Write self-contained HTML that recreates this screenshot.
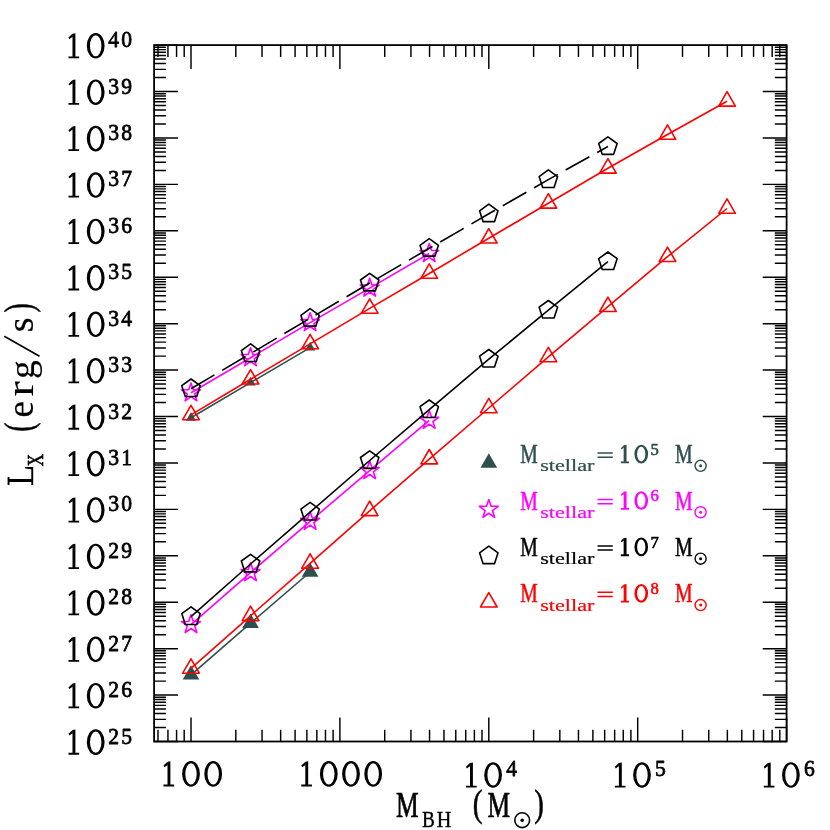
<!DOCTYPE html>
<html><head><meta charset="utf-8"><style>html,body{margin:0;padding:0;background:#fff;width:830px;height:830px;overflow:hidden}</style></head><body><svg width="830" height="830" viewBox="0 0 830 830" style="position:absolute;left:0;top:0">
<rect width="830" height="830" fill="#fff"/>
<path d="M157.97 741.50V729.70M157.97 45.10V56.90M167.94 741.50V729.70M167.94 45.10V56.90M176.57 741.50V729.70M176.57 45.10V56.90M184.19 741.50V729.70M184.19 45.10V56.90M191.00 741.50V717.60M191.00 45.10V69.00M235.82 741.50V729.70M235.82 45.10V56.90M262.04 741.50V729.70M262.04 45.10V56.90M280.65 741.50V729.70M280.65 45.10V56.90M295.08 741.50V729.70M295.08 45.10V56.90M306.87 741.50V729.70M306.87 45.10V56.90M316.84 741.50V729.70M316.84 45.10V56.90M325.47 741.50V729.70M325.47 45.10V56.90M333.09 741.50V729.70M333.09 45.10V56.90M339.90 741.50V717.60M339.90 45.10V69.00M384.72 741.50V729.70M384.72 45.10V56.90M410.94 741.50V729.70M410.94 45.10V56.90M429.55 741.50V729.70M429.55 45.10V56.90M443.98 741.50V729.70M443.98 45.10V56.90M455.77 741.50V729.70M455.77 45.10V56.90M465.74 741.50V729.70M465.74 45.10V56.90M474.37 741.50V729.70M474.37 45.10V56.90M481.99 741.50V729.70M481.99 45.10V56.90M488.80 741.50V717.60M488.80 45.10V69.00M533.62 741.50V729.70M533.62 45.10V56.90M559.84 741.50V729.70M559.84 45.10V56.90M578.45 741.50V729.70M578.45 45.10V56.90M592.88 741.50V729.70M592.88 45.10V56.90M604.67 741.50V729.70M604.67 45.10V56.90M614.64 741.50V729.70M614.64 45.10V56.90M623.27 741.50V729.70M623.27 45.10V56.90M630.89 741.50V729.70M630.89 45.10V56.90M637.70 741.50V717.60M637.70 45.10V69.00M682.52 741.50V729.70M682.52 45.10V56.90M708.74 741.50V729.70M708.74 45.10V56.90M727.35 741.50V729.70M727.35 45.10V56.90M741.78 741.50V729.70M741.78 45.10V56.90M753.57 741.50V729.70M753.57 45.10V56.90M763.54 741.50V729.70M763.54 45.10V56.90M772.17 741.50V729.70M772.17 45.10V56.90M779.79 741.50V729.70M779.79 45.10V56.90M786.60 741.50V717.60M786.60 45.10V69.00M154.10 741.50H178.00M786.60 741.50H762.70M154.10 727.52H165.90M786.60 727.52H774.80M154.10 719.35H165.90M786.60 719.35H774.80M154.10 713.55H165.90M786.60 713.55H774.80M154.10 709.05H165.90M786.60 709.05H774.80M154.10 705.37H165.90M786.60 705.37H774.80M154.10 702.26H165.90M786.60 702.26H774.80M154.10 699.57H165.90M786.60 699.57H774.80M154.10 697.20H165.90M786.60 697.20H774.80M154.10 695.07H178.00M786.60 695.07H762.70M154.10 681.10H165.90M786.60 681.10H774.80M154.10 672.92H165.90M786.60 672.92H774.80M154.10 667.12H165.90M786.60 667.12H774.80M154.10 662.62H165.90M786.60 662.62H774.80M154.10 658.95H165.90M786.60 658.95H774.80M154.10 655.84H165.90M786.60 655.84H774.80M154.10 653.15H165.90M786.60 653.15H774.80M154.10 650.77H165.90M786.60 650.77H774.80M154.10 648.65H178.00M786.60 648.65H762.70M154.10 634.67H165.90M786.60 634.67H774.80M154.10 626.50H165.90M786.60 626.50H774.80M154.10 620.70H165.90M786.60 620.70H774.80M154.10 616.20H165.90M786.60 616.20H774.80M154.10 612.52H165.90M786.60 612.52H774.80M154.10 609.41H165.90M786.60 609.41H774.80M154.10 606.72H165.90M786.60 606.72H774.80M154.10 604.34H165.90M786.60 604.34H774.80M154.10 602.22H178.00M786.60 602.22H762.70M154.10 588.24H165.90M786.60 588.24H774.80M154.10 580.07H165.90M786.60 580.07H774.80M154.10 574.27H165.90M786.60 574.27H774.80M154.10 569.77H165.90M786.60 569.77H774.80M154.10 566.09H165.90M786.60 566.09H774.80M154.10 562.98H165.90M786.60 562.98H774.80M154.10 560.29H165.90M786.60 560.29H774.80M154.10 557.92H165.90M786.60 557.92H774.80M154.10 555.79H178.00M786.60 555.79H762.70M154.10 541.82H165.90M786.60 541.82H774.80M154.10 533.64H165.90M786.60 533.64H774.80M154.10 527.84H165.90M786.60 527.84H774.80M154.10 523.34H165.90M786.60 523.34H774.80M154.10 519.67H165.90M786.60 519.67H774.80M154.10 516.56H165.90M786.60 516.56H774.80M154.10 513.87H165.90M786.60 513.87H774.80M154.10 511.49H165.90M786.60 511.49H774.80M154.10 509.37H178.00M786.60 509.37H762.70M154.10 495.39H165.90M786.60 495.39H774.80M154.10 487.22H165.90M786.60 487.22H774.80M154.10 481.42H165.90M786.60 481.42H774.80M154.10 476.92H165.90M786.60 476.92H774.80M154.10 473.24H165.90M786.60 473.24H774.80M154.10 470.13H165.90M786.60 470.13H774.80M154.10 467.44H165.90M786.60 467.44H774.80M154.10 465.06H165.90M786.60 465.06H774.80M154.10 462.94H178.00M786.60 462.94H762.70M154.10 448.96H165.90M786.60 448.96H774.80M154.10 440.79H165.90M786.60 440.79H774.80M154.10 434.99H165.90M786.60 434.99H774.80M154.10 430.49H165.90M786.60 430.49H774.80M154.10 426.81H165.90M786.60 426.81H774.80M154.10 423.70H165.90M786.60 423.70H774.80M154.10 421.01H165.90M786.60 421.01H774.80M154.10 418.64H165.90M786.60 418.64H774.80M154.10 416.51H178.00M786.60 416.51H762.70M154.10 402.54H165.90M786.60 402.54H774.80M154.10 394.36H165.90M786.60 394.36H774.80M154.10 388.56H165.90M786.60 388.56H774.80M154.10 384.06H165.90M786.60 384.06H774.80M154.10 380.39H165.90M786.60 380.39H774.80M154.10 377.28H165.90M786.60 377.28H774.80M154.10 374.59H165.90M786.60 374.59H774.80M154.10 372.21H165.90M786.60 372.21H774.80M154.10 370.09H178.00M786.60 370.09H762.70M154.10 356.11H165.90M786.60 356.11H774.80M154.10 347.94H165.90M786.60 347.94H774.80M154.10 342.14H165.90M786.60 342.14H774.80M154.10 337.64H165.90M786.60 337.64H774.80M154.10 333.96H165.90M786.60 333.96H774.80M154.10 330.85H165.90M786.60 330.85H774.80M154.10 328.16H165.90M786.60 328.16H774.80M154.10 325.78H165.90M786.60 325.78H774.80M154.10 323.66H178.00M786.60 323.66H762.70M154.10 309.68H165.90M786.60 309.68H774.80M154.10 301.51H165.90M786.60 301.51H774.80M154.10 295.71H165.90M786.60 295.71H774.80M154.10 291.21H165.90M786.60 291.21H774.80M154.10 287.53H165.90M786.60 287.53H774.80M154.10 284.42H165.90M786.60 284.42H774.80M154.10 281.73H165.90M786.60 281.73H774.80M154.10 279.36H165.90M786.60 279.36H774.80M154.10 277.23H178.00M786.60 277.23H762.70M154.10 263.26H165.90M786.60 263.26H774.80M154.10 255.08H165.90M786.60 255.08H774.80M154.10 249.28H165.90M786.60 249.28H774.80M154.10 244.78H165.90M786.60 244.78H774.80M154.10 241.11H165.90M786.60 241.11H774.80M154.10 238.00H165.90M786.60 238.00H774.80M154.10 235.31H165.90M786.60 235.31H774.80M154.10 232.93H165.90M786.60 232.93H774.80M154.10 230.81H178.00M786.60 230.81H762.70M154.10 216.83H165.90M786.60 216.83H774.80M154.10 208.66H165.90M786.60 208.66H774.80M154.10 202.86H165.90M786.60 202.86H774.80M154.10 198.36H165.90M786.60 198.36H774.80M154.10 194.68H165.90M786.60 194.68H774.80M154.10 191.57H165.90M786.60 191.57H774.80M154.10 188.88H165.90M786.60 188.88H774.80M154.10 186.50H165.90M786.60 186.50H774.80M154.10 184.38H178.00M786.60 184.38H762.70M154.10 170.40H165.90M786.60 170.40H774.80M154.10 162.23H165.90M786.60 162.23H774.80M154.10 156.43H165.90M786.60 156.43H774.80M154.10 151.93H165.90M786.60 151.93H774.80M154.10 148.25H165.90M786.60 148.25H774.80M154.10 145.14H165.90M786.60 145.14H774.80M154.10 142.45H165.90M786.60 142.45H774.80M154.10 140.08H165.90M786.60 140.08H774.80M154.10 137.95H178.00M786.60 137.95H762.70M154.10 123.98H165.90M786.60 123.98H774.80M154.10 115.80H165.90M786.60 115.80H774.80M154.10 110.00H165.90M786.60 110.00H774.80M154.10 105.50H165.90M786.60 105.50H774.80M154.10 101.83H165.90M786.60 101.83H774.80M154.10 98.72H165.90M786.60 98.72H774.80M154.10 96.03H165.90M786.60 96.03H774.80M154.10 93.65H165.90M786.60 93.65H774.80M154.10 91.53H178.00M786.60 91.53H762.70M154.10 77.55H165.90M786.60 77.55H774.80M154.10 69.38H165.90M786.60 69.38H774.80M154.10 63.58H165.90M786.60 63.58H774.80M154.10 59.08H165.90M786.60 59.08H774.80M154.10 55.40H165.90M786.60 55.40H774.80M154.10 52.29H165.90M786.60 52.29H774.80M154.10 49.60H165.90M786.60 49.60H774.80M154.10 47.22H165.90M786.60 47.22H774.80M154.10 45.10H178.00M786.60 45.10H762.70" stroke="#000" stroke-width="1.45" fill="none"/>
<rect x="154.1" y="45.1" width="632.50" height="696.40" fill="none" stroke="#000" stroke-width="1.8"/>
<polygon points="191.00,411.90 196.11,420.75 185.89,420.75" fill="#2f4f4f" stroke="none"/>
<polygon points="250.56,376.70 255.67,385.55 245.45,385.55" fill="#2f4f4f" stroke="none"/>
<polygon points="310.12,341.70 315.23,350.55 305.01,350.55" fill="#2f4f4f" stroke="none"/>
<polyline points="191.00,417.80 250.56,382.60 310.12,347.60" fill="none" stroke="#2f4f4f" stroke-width="1.6"/>
<polygon points="191.00,382.90 193.29,389.64 200.42,389.74 194.71,394.01 196.82,400.81 191.00,396.70 185.18,400.81 187.29,394.01 181.58,389.74 188.71,389.64" fill="none" stroke="#ff00ff" stroke-width="1.6" stroke-linejoin="round"/>
<polygon points="250.56,347.80 252.85,354.54 259.98,354.64 254.27,358.91 256.38,365.71 250.56,361.60 244.74,365.71 246.85,358.91 241.14,354.64 248.27,354.54" fill="none" stroke="#ff00ff" stroke-width="1.6" stroke-linejoin="round"/>
<polygon points="310.12,312.70 312.41,319.44 319.54,319.54 313.83,323.81 315.94,330.61 310.12,326.50 304.30,330.61 306.41,323.81 300.70,319.54 307.83,319.44" fill="none" stroke="#ff00ff" stroke-width="1.6" stroke-linejoin="round"/>
<polygon points="369.68,278.20 371.97,284.94 379.10,285.04 373.39,289.31 375.50,296.11 369.68,292.00 363.86,296.11 365.97,289.31 360.26,285.04 367.39,284.94" fill="none" stroke="#ff00ff" stroke-width="1.6" stroke-linejoin="round"/>
<polygon points="429.24,243.60 431.53,250.34 438.66,250.44 432.95,254.71 435.06,261.51 429.24,257.40 423.42,261.51 425.53,254.71 419.82,250.44 426.95,250.34" fill="none" stroke="#ff00ff" stroke-width="1.6" stroke-linejoin="round"/>
<polyline points="191.00,392.80 250.56,357.70 310.12,322.60 369.68,288.10 429.24,253.50" fill="none" stroke="#ff00ff" stroke-width="1.6"/>
<polygon points="191.00,379.00 200.23,385.70 196.70,396.55 185.30,396.55 181.77,385.70" fill="none" stroke="#000" stroke-width="1.6" stroke-linejoin="round"/>
<polygon points="250.56,343.90 259.79,350.60 256.26,361.45 244.86,361.45 241.33,350.60" fill="none" stroke="#000" stroke-width="1.6" stroke-linejoin="round"/>
<polygon points="310.12,308.60 319.35,315.30 315.82,326.15 304.42,326.15 300.89,315.30" fill="none" stroke="#000" stroke-width="1.6" stroke-linejoin="round"/>
<polygon points="369.68,273.30 378.91,280.00 375.38,290.85 363.98,290.85 360.45,280.00" fill="none" stroke="#000" stroke-width="1.6" stroke-linejoin="round"/>
<polygon points="429.24,238.60 438.47,245.30 434.94,256.15 423.54,256.15 420.01,245.30" fill="none" stroke="#000" stroke-width="1.6" stroke-linejoin="round"/>
<polygon points="488.80,204.10 498.03,210.80 494.50,221.65 483.10,221.65 479.57,210.80" fill="none" stroke="#000" stroke-width="1.6" stroke-linejoin="round"/>
<polygon points="548.36,169.90 557.59,176.60 554.06,187.45 542.66,187.45 539.13,176.60" fill="none" stroke="#000" stroke-width="1.6" stroke-linejoin="round"/>
<polygon points="607.92,136.80 617.15,143.50 613.62,154.35 602.22,154.35 598.69,143.50" fill="none" stroke="#000" stroke-width="1.6" stroke-linejoin="round"/>
<polyline points="191.00,388.70 250.56,353.60 310.12,318.30 369.68,283.00 429.24,248.30 488.80,213.80 548.36,179.60 607.92,146.50" fill="none" stroke="#000" stroke-width="1.6" stroke-dasharray="27.2 8.95"/>
<polygon points="191.00,405.30 199.31,419.70 182.69,419.70" fill="none" stroke="#ff0000" stroke-width="1.6" stroke-linejoin="round"/>
<polygon points="250.56,369.60 258.87,384.00 242.25,384.00" fill="none" stroke="#ff0000" stroke-width="1.6" stroke-linejoin="round"/>
<polygon points="310.12,334.30 318.43,348.70 301.81,348.70" fill="none" stroke="#ff0000" stroke-width="1.6" stroke-linejoin="round"/>
<polygon points="369.68,298.80 377.99,313.20 361.37,313.20" fill="none" stroke="#ff0000" stroke-width="1.6" stroke-linejoin="round"/>
<polygon points="429.24,263.90 437.55,278.30 420.93,278.30" fill="none" stroke="#ff0000" stroke-width="1.6" stroke-linejoin="round"/>
<polygon points="488.80,228.60 497.11,243.00 480.49,243.00" fill="none" stroke="#ff0000" stroke-width="1.6" stroke-linejoin="round"/>
<polygon points="548.36,193.70 556.67,208.10 540.05,208.10" fill="none" stroke="#ff0000" stroke-width="1.6" stroke-linejoin="round"/>
<polygon points="607.92,158.70 616.23,173.10 599.61,173.10" fill="none" stroke="#ff0000" stroke-width="1.6" stroke-linejoin="round"/>
<polygon points="667.48,124.90 675.79,139.30 659.17,139.30" fill="none" stroke="#ff0000" stroke-width="1.6" stroke-linejoin="round"/>
<polygon points="727.04,91.70 735.35,106.10 718.73,106.10" fill="none" stroke="#ff0000" stroke-width="1.6" stroke-linejoin="round"/>
<polyline points="191.00,414.90 250.56,379.20 310.12,343.90 369.68,308.40 429.24,273.50 488.80,238.20 548.36,203.30 607.92,168.30 667.48,134.50 727.04,101.30" fill="none" stroke="#ff0000" stroke-width="1.6"/>
<polygon points="191.00,665.20 199.31,679.60 182.69,679.60" fill="#2f4f4f" stroke="none"/>
<polygon points="250.56,613.60 258.87,628.00 242.25,628.00" fill="#2f4f4f" stroke="none"/>
<polygon points="310.12,562.40 318.43,576.80 301.81,576.80" fill="#2f4f4f" stroke="none"/>
<polyline points="191.00,674.80 250.56,623.20 310.12,572.00" fill="none" stroke="#2f4f4f" stroke-width="1.6"/>
<polygon points="191.00,614.70 193.29,621.44 200.42,621.54 194.71,625.81 196.82,632.61 191.00,628.50 185.18,632.61 187.29,625.81 181.58,621.54 188.71,621.44" fill="none" stroke="#ff00ff" stroke-width="1.6" stroke-linejoin="round"/>
<polygon points="250.56,562.70 252.85,569.44 259.98,569.54 254.27,573.81 256.38,580.61 250.56,576.50 244.74,580.61 246.85,573.81 241.14,569.54 248.27,569.44" fill="none" stroke="#ff00ff" stroke-width="1.6" stroke-linejoin="round"/>
<polygon points="310.12,511.40 312.41,518.14 319.54,518.24 313.83,522.51 315.94,529.31 310.12,525.20 304.30,529.31 306.41,522.51 300.70,518.24 307.83,518.14" fill="none" stroke="#ff00ff" stroke-width="1.6" stroke-linejoin="round"/>
<polygon points="369.68,460.70 371.97,467.44 379.10,467.54 373.39,471.81 375.50,478.61 369.68,474.50 363.86,478.61 365.97,471.81 360.26,467.54 367.39,467.44" fill="none" stroke="#ff00ff" stroke-width="1.6" stroke-linejoin="round"/>
<polygon points="429.24,410.40 431.53,417.14 438.66,417.24 432.95,421.51 435.06,428.31 429.24,424.20 423.42,428.31 425.53,421.51 419.82,417.24 426.95,417.14" fill="none" stroke="#ff00ff" stroke-width="1.6" stroke-linejoin="round"/>
<polyline points="191.00,624.60 250.56,572.60 310.12,521.30 369.68,470.60 429.24,420.30" fill="none" stroke="#ff00ff" stroke-width="1.6"/>
<polygon points="191.00,606.90 200.23,613.60 196.70,624.45 185.30,624.45 181.77,613.60" fill="none" stroke="#000" stroke-width="1.6" stroke-linejoin="round"/>
<polygon points="250.56,554.30 259.79,561.00 256.26,571.85 244.86,571.85 241.33,561.00" fill="none" stroke="#000" stroke-width="1.6" stroke-linejoin="round"/>
<polygon points="310.12,502.40 319.35,509.10 315.82,519.95 304.42,519.95 300.89,509.10" fill="none" stroke="#000" stroke-width="1.6" stroke-linejoin="round"/>
<polygon points="369.68,450.80 378.91,457.50 375.38,468.35 363.98,468.35 360.45,457.50" fill="none" stroke="#000" stroke-width="1.6" stroke-linejoin="round"/>
<polygon points="429.24,400.00 438.47,406.70 434.94,417.55 423.54,417.55 420.01,406.70" fill="none" stroke="#000" stroke-width="1.6" stroke-linejoin="round"/>
<polygon points="488.80,349.50 498.03,356.20 494.50,367.05 483.10,367.05 479.57,356.20" fill="none" stroke="#000" stroke-width="1.6" stroke-linejoin="round"/>
<polygon points="548.36,300.50 557.59,307.20 554.06,318.05 542.66,318.05 539.13,307.20" fill="none" stroke="#000" stroke-width="1.6" stroke-linejoin="round"/>
<polygon points="607.92,252.00 617.15,258.70 613.62,269.55 602.22,269.55 598.69,258.70" fill="none" stroke="#000" stroke-width="1.6" stroke-linejoin="round"/>
<polyline points="191.00,616.60 250.56,564.00 310.12,512.10 369.68,460.50 429.24,409.70 488.80,359.20 548.36,310.20 607.92,261.70" fill="none" stroke="#000" stroke-width="1.6"/>
<polygon points="191.00,658.80 199.31,673.20 182.69,673.20" fill="none" stroke="#ff0000" stroke-width="1.6" stroke-linejoin="round"/>
<polygon points="250.56,606.20 258.87,620.60 242.25,620.60" fill="none" stroke="#ff0000" stroke-width="1.6" stroke-linejoin="round"/>
<polygon points="310.12,553.80 318.43,568.20 301.81,568.20" fill="none" stroke="#ff0000" stroke-width="1.6" stroke-linejoin="round"/>
<polygon points="369.68,501.20 377.99,515.60 361.37,515.60" fill="none" stroke="#ff0000" stroke-width="1.6" stroke-linejoin="round"/>
<polygon points="429.24,449.50 437.55,463.90 420.93,463.90" fill="none" stroke="#ff0000" stroke-width="1.6" stroke-linejoin="round"/>
<polygon points="488.80,398.40 497.11,412.80 480.49,412.80" fill="none" stroke="#ff0000" stroke-width="1.6" stroke-linejoin="round"/>
<polygon points="548.36,347.30 556.67,361.70 540.05,361.70" fill="none" stroke="#ff0000" stroke-width="1.6" stroke-linejoin="round"/>
<polygon points="607.92,297.10 616.23,311.50 599.61,311.50" fill="none" stroke="#ff0000" stroke-width="1.6" stroke-linejoin="round"/>
<polygon points="667.48,247.10 675.79,261.50 659.17,261.50" fill="none" stroke="#ff0000" stroke-width="1.6" stroke-linejoin="round"/>
<polygon points="727.04,198.90 735.35,213.30 718.73,213.30" fill="none" stroke="#ff0000" stroke-width="1.6" stroke-linejoin="round"/>
<polyline points="191.00,668.40 250.56,615.80 310.12,563.40 369.68,510.80 429.24,459.10 488.80,408.00 548.36,356.90 607.92,306.70 667.48,256.70 727.04,208.50" fill="none" stroke="#ff0000" stroke-width="1.6"/>
<polygon points="488.80,453.34 497.11,467.74 480.49,467.74" fill="#2f4f4f" stroke="none"/>
<polygon points="488.80,499.47 491.09,506.21 498.22,506.31 492.51,510.57 494.62,517.38 488.80,513.27 482.98,517.38 485.09,510.57 479.38,506.31 486.51,506.21" fill="none" stroke="#ff00ff" stroke-width="1.6" stroke-linejoin="round"/>
<polygon points="488.80,546.09 498.03,552.80 494.50,563.64 483.10,563.64 479.57,552.80" fill="none" stroke="#000" stroke-width="1.6" stroke-linejoin="round"/>
<polygon points="488.80,592.62 497.11,607.02 480.49,607.02" fill="none" stroke="#ff0000" stroke-width="1.6" stroke-linejoin="round"/>
<g font-family="'Liberation Serif', serif" style="opacity:0.999">
<path d="M72.50 730.05L75.40 729.55V754.15H72.50ZM68.45 752.85H79.15V754.65H68.45ZM72.60 729.95L68.45 733.85L69.35 735.55L72.60 733.15Z" fill="#000"/>
<path d="M86.80 742.15A8.90 12.80 0 1 1 104.60 742.15A8.90 12.80 0 1 1 86.80 742.15ZM90.00 742.15A5.70 10.60 0 1 0 101.40 742.15A5.70 10.60 0 1 0 90.00 742.15Z" fill="#000" fill-rule="evenodd"/>
<text transform="matrix(0.9529 0 0 1 108.30 743.55)" font-size="22.666666666666668" fill="#000" stroke="#000" stroke-width="0.75" vector-effect="non-scaling-stroke" stroke-linejoin="round">2</text>
<text transform="matrix(0.9529 0 0 1 121.30 743.55)" font-size="22.666666666666668" fill="#000" stroke="#000" stroke-width="0.75" vector-effect="non-scaling-stroke" stroke-linejoin="round">5</text>
<path d="M72.50 683.62L75.40 683.12V707.72H72.50ZM68.45 706.42H79.15V708.22H68.45ZM72.60 683.52L68.45 687.42L69.35 689.12L72.60 686.72Z" fill="#000"/>
<path d="M86.80 695.72A8.90 12.80 0 1 1 104.60 695.72A8.90 12.80 0 1 1 86.80 695.72ZM90.00 695.72A5.70 10.60 0 1 0 101.40 695.72A5.70 10.60 0 1 0 90.00 695.72Z" fill="#000" fill-rule="evenodd"/>
<text transform="matrix(0.9529 0 0 1 108.30 697.12)" font-size="22.666666666666668" fill="#000" stroke="#000" stroke-width="0.75" vector-effect="non-scaling-stroke" stroke-linejoin="round">2</text>
<text transform="matrix(0.9529 0 0 1 121.30 697.12)" font-size="22.666666666666668" fill="#000" stroke="#000" stroke-width="0.75" vector-effect="non-scaling-stroke" stroke-linejoin="round">6</text>
<path d="M72.50 637.20L75.40 636.70V661.30H72.50ZM68.45 660.00H79.15V661.80H68.45ZM72.60 637.10L68.45 641.00L69.35 642.70L72.60 640.30Z" fill="#000"/>
<path d="M86.80 649.30A8.90 12.80 0 1 1 104.60 649.30A8.90 12.80 0 1 1 86.80 649.30ZM90.00 649.30A5.70 10.60 0 1 0 101.40 649.30A5.70 10.60 0 1 0 90.00 649.30Z" fill="#000" fill-rule="evenodd"/>
<text transform="matrix(0.9529 0 0 1 108.30 650.70)" font-size="22.666666666666668" fill="#000" stroke="#000" stroke-width="0.75" vector-effect="non-scaling-stroke" stroke-linejoin="round">2</text>
<text transform="matrix(0.9529 0 0 1 121.30 650.70)" font-size="22.666666666666668" fill="#000" stroke="#000" stroke-width="0.75" vector-effect="non-scaling-stroke" stroke-linejoin="round">7</text>
<path d="M72.50 590.77L75.40 590.27V614.87H72.50ZM68.45 613.57H79.15V615.37H68.45ZM72.60 590.67L68.45 594.57L69.35 596.27L72.60 593.87Z" fill="#000"/>
<path d="M86.80 602.87A8.90 12.80 0 1 1 104.60 602.87A8.90 12.80 0 1 1 86.80 602.87ZM90.00 602.87A5.70 10.60 0 1 0 101.40 602.87A5.70 10.60 0 1 0 90.00 602.87Z" fill="#000" fill-rule="evenodd"/>
<text transform="matrix(0.9529 0 0 1 108.30 604.27)" font-size="22.666666666666668" fill="#000" stroke="#000" stroke-width="0.75" vector-effect="non-scaling-stroke" stroke-linejoin="round">2</text>
<text transform="matrix(0.9529 0 0 1 121.30 604.27)" font-size="22.666666666666668" fill="#000" stroke="#000" stroke-width="0.75" vector-effect="non-scaling-stroke" stroke-linejoin="round">8</text>
<path d="M72.50 544.34L75.40 543.84V568.44H72.50ZM68.45 567.14H79.15V568.94H68.45ZM72.60 544.24L68.45 548.14L69.35 549.84L72.60 547.44Z" fill="#000"/>
<path d="M86.80 556.44A8.90 12.80 0 1 1 104.60 556.44A8.90 12.80 0 1 1 86.80 556.44ZM90.00 556.44A5.70 10.60 0 1 0 101.40 556.44A5.70 10.60 0 1 0 90.00 556.44Z" fill="#000" fill-rule="evenodd"/>
<text transform="matrix(0.9529 0 0 1 108.30 557.84)" font-size="22.666666666666668" fill="#000" stroke="#000" stroke-width="0.75" vector-effect="non-scaling-stroke" stroke-linejoin="round">2</text>
<text transform="matrix(0.9529 0 0 1 121.30 557.84)" font-size="22.666666666666668" fill="#000" stroke="#000" stroke-width="0.75" vector-effect="non-scaling-stroke" stroke-linejoin="round">9</text>
<path d="M72.50 497.92L75.40 497.42V522.02H72.50ZM68.45 520.72H79.15V522.52H68.45ZM72.60 497.82L68.45 501.72L69.35 503.42L72.60 501.02Z" fill="#000"/>
<path d="M86.80 510.02A8.90 12.80 0 1 1 104.60 510.02A8.90 12.80 0 1 1 86.80 510.02ZM90.00 510.02A5.70 10.60 0 1 0 101.40 510.02A5.70 10.60 0 1 0 90.00 510.02Z" fill="#000" fill-rule="evenodd"/>
<text transform="matrix(0.9529 0 0 1 108.30 511.42)" font-size="22.666666666666668" fill="#000" stroke="#000" stroke-width="0.75" vector-effect="non-scaling-stroke" stroke-linejoin="round">3</text>
<text transform="matrix(0.9529 0 0 1 121.30 511.42)" font-size="22.666666666666668" fill="#000" stroke="#000" stroke-width="0.75" vector-effect="non-scaling-stroke" stroke-linejoin="round">0</text>
<path d="M72.50 451.49L75.40 450.99V475.59H72.50ZM68.45 474.29H79.15V476.09H68.45ZM72.60 451.39L68.45 455.29L69.35 456.99L72.60 454.59Z" fill="#000"/>
<path d="M86.80 463.59A8.90 12.80 0 1 1 104.60 463.59A8.90 12.80 0 1 1 86.80 463.59ZM90.00 463.59A5.70 10.60 0 1 0 101.40 463.59A5.70 10.60 0 1 0 90.00 463.59Z" fill="#000" fill-rule="evenodd"/>
<text transform="matrix(0.9529 0 0 1 108.30 464.99)" font-size="22.666666666666668" fill="#000" stroke="#000" stroke-width="0.75" vector-effect="non-scaling-stroke" stroke-linejoin="round">3</text>
<text transform="matrix(0.9529 0 0 1 121.30 464.99)" font-size="22.666666666666668" fill="#000" stroke="#000" stroke-width="0.75" vector-effect="non-scaling-stroke" stroke-linejoin="round">1</text>
<path d="M72.50 405.06L75.40 404.56V429.16H72.50ZM68.45 427.86H79.15V429.66H68.45ZM72.60 404.96L68.45 408.86L69.35 410.56L72.60 408.16Z" fill="#000"/>
<path d="M86.80 417.16A8.90 12.80 0 1 1 104.60 417.16A8.90 12.80 0 1 1 86.80 417.16ZM90.00 417.16A5.70 10.60 0 1 0 101.40 417.16A5.70 10.60 0 1 0 90.00 417.16Z" fill="#000" fill-rule="evenodd"/>
<text transform="matrix(0.9529 0 0 1 108.30 418.56)" font-size="22.666666666666668" fill="#000" stroke="#000" stroke-width="0.75" vector-effect="non-scaling-stroke" stroke-linejoin="round">3</text>
<text transform="matrix(0.9529 0 0 1 121.30 418.56)" font-size="22.666666666666668" fill="#000" stroke="#000" stroke-width="0.75" vector-effect="non-scaling-stroke" stroke-linejoin="round">2</text>
<path d="M72.50 358.64L75.40 358.14V382.74H72.50ZM68.45 381.44H79.15V383.24H68.45ZM72.60 358.54L68.45 362.44L69.35 364.14L72.60 361.74Z" fill="#000"/>
<path d="M86.80 370.74A8.90 12.80 0 1 1 104.60 370.74A8.90 12.80 0 1 1 86.80 370.74ZM90.00 370.74A5.70 10.60 0 1 0 101.40 370.74A5.70 10.60 0 1 0 90.00 370.74Z" fill="#000" fill-rule="evenodd"/>
<text transform="matrix(0.9529 0 0 1 108.30 372.14)" font-size="22.666666666666668" fill="#000" stroke="#000" stroke-width="0.75" vector-effect="non-scaling-stroke" stroke-linejoin="round">3</text>
<text transform="matrix(0.9529 0 0 1 121.30 372.14)" font-size="22.666666666666668" fill="#000" stroke="#000" stroke-width="0.75" vector-effect="non-scaling-stroke" stroke-linejoin="round">3</text>
<path d="M72.50 312.21L75.40 311.71V336.31H72.50ZM68.45 335.01H79.15V336.81H68.45ZM72.60 312.11L68.45 316.01L69.35 317.71L72.60 315.31Z" fill="#000"/>
<path d="M86.80 324.31A8.90 12.80 0 1 1 104.60 324.31A8.90 12.80 0 1 1 86.80 324.31ZM90.00 324.31A5.70 10.60 0 1 0 101.40 324.31A5.70 10.60 0 1 0 90.00 324.31Z" fill="#000" fill-rule="evenodd"/>
<text transform="matrix(0.9529 0 0 1 108.30 325.71)" font-size="22.666666666666668" fill="#000" stroke="#000" stroke-width="0.75" vector-effect="non-scaling-stroke" stroke-linejoin="round">3</text>
<text transform="matrix(0.9529 0 0 1 121.30 325.71)" font-size="22.666666666666668" fill="#000" stroke="#000" stroke-width="0.75" vector-effect="non-scaling-stroke" stroke-linejoin="round">4</text>
<path d="M72.50 265.78L75.40 265.28V289.88H72.50ZM68.45 288.58H79.15V290.38H68.45ZM72.60 265.68L68.45 269.58L69.35 271.28L72.60 268.88Z" fill="#000"/>
<path d="M86.80 277.88A8.90 12.80 0 1 1 104.60 277.88A8.90 12.80 0 1 1 86.80 277.88ZM90.00 277.88A5.70 10.60 0 1 0 101.40 277.88A5.70 10.60 0 1 0 90.00 277.88Z" fill="#000" fill-rule="evenodd"/>
<text transform="matrix(0.9529 0 0 1 108.30 279.28)" font-size="22.666666666666668" fill="#000" stroke="#000" stroke-width="0.75" vector-effect="non-scaling-stroke" stroke-linejoin="round">3</text>
<text transform="matrix(0.9529 0 0 1 121.30 279.28)" font-size="22.666666666666668" fill="#000" stroke="#000" stroke-width="0.75" vector-effect="non-scaling-stroke" stroke-linejoin="round">5</text>
<path d="M72.50 219.36L75.40 218.86V243.46H72.50ZM68.45 242.16H79.15V243.96H68.45ZM72.60 219.26L68.45 223.16L69.35 224.86L72.60 222.46Z" fill="#000"/>
<path d="M86.80 231.46A8.90 12.80 0 1 1 104.60 231.46A8.90 12.80 0 1 1 86.80 231.46ZM90.00 231.46A5.70 10.60 0 1 0 101.40 231.46A5.70 10.60 0 1 0 90.00 231.46Z" fill="#000" fill-rule="evenodd"/>
<text transform="matrix(0.9529 0 0 1 108.30 232.86)" font-size="22.666666666666668" fill="#000" stroke="#000" stroke-width="0.75" vector-effect="non-scaling-stroke" stroke-linejoin="round">3</text>
<text transform="matrix(0.9529 0 0 1 121.30 232.86)" font-size="22.666666666666668" fill="#000" stroke="#000" stroke-width="0.75" vector-effect="non-scaling-stroke" stroke-linejoin="round">6</text>
<path d="M72.50 172.93L75.40 172.43V197.03H72.50ZM68.45 195.73H79.15V197.53H68.45ZM72.60 172.83L68.45 176.73L69.35 178.43L72.60 176.03Z" fill="#000"/>
<path d="M86.80 185.03A8.90 12.80 0 1 1 104.60 185.03A8.90 12.80 0 1 1 86.80 185.03ZM90.00 185.03A5.70 10.60 0 1 0 101.40 185.03A5.70 10.60 0 1 0 90.00 185.03Z" fill="#000" fill-rule="evenodd"/>
<text transform="matrix(0.9529 0 0 1 108.30 186.43)" font-size="22.666666666666668" fill="#000" stroke="#000" stroke-width="0.75" vector-effect="non-scaling-stroke" stroke-linejoin="round">3</text>
<text transform="matrix(0.9529 0 0 1 121.30 186.43)" font-size="22.666666666666668" fill="#000" stroke="#000" stroke-width="0.75" vector-effect="non-scaling-stroke" stroke-linejoin="round">7</text>
<path d="M72.50 126.50L75.40 126.00V150.60H72.50ZM68.45 149.30H79.15V151.10H68.45ZM72.60 126.40L68.45 130.30L69.35 132.00L72.60 129.60Z" fill="#000"/>
<path d="M86.80 138.60A8.90 12.80 0 1 1 104.60 138.60A8.90 12.80 0 1 1 86.80 138.60ZM90.00 138.60A5.70 10.60 0 1 0 101.40 138.60A5.70 10.60 0 1 0 90.00 138.60Z" fill="#000" fill-rule="evenodd"/>
<text transform="matrix(0.9529 0 0 1 108.30 140.00)" font-size="22.666666666666668" fill="#000" stroke="#000" stroke-width="0.75" vector-effect="non-scaling-stroke" stroke-linejoin="round">3</text>
<text transform="matrix(0.9529 0 0 1 121.30 140.00)" font-size="22.666666666666668" fill="#000" stroke="#000" stroke-width="0.75" vector-effect="non-scaling-stroke" stroke-linejoin="round">8</text>
<path d="M72.50 80.08L75.40 79.58V104.18H72.50ZM68.45 102.88H79.15V104.68H68.45ZM72.60 79.98L68.45 83.88L69.35 85.58L72.60 83.18Z" fill="#000"/>
<path d="M86.80 92.18A8.90 12.80 0 1 1 104.60 92.18A8.90 12.80 0 1 1 86.80 92.18ZM90.00 92.18A5.70 10.60 0 1 0 101.40 92.18A5.70 10.60 0 1 0 90.00 92.18Z" fill="#000" fill-rule="evenodd"/>
<text transform="matrix(0.9529 0 0 1 108.30 93.58)" font-size="22.666666666666668" fill="#000" stroke="#000" stroke-width="0.75" vector-effect="non-scaling-stroke" stroke-linejoin="round">3</text>
<text transform="matrix(0.9529 0 0 1 121.30 93.58)" font-size="22.666666666666668" fill="#000" stroke="#000" stroke-width="0.75" vector-effect="non-scaling-stroke" stroke-linejoin="round">9</text>
<path d="M72.50 33.65L75.40 33.15V57.75H72.50ZM68.45 56.45H79.15V58.25H68.45ZM72.60 33.55L68.45 37.45L69.35 39.15L72.60 36.75Z" fill="#000"/>
<path d="M86.80 45.75A8.90 12.80 0 1 1 104.60 45.75A8.90 12.80 0 1 1 86.80 45.75ZM90.00 45.75A5.70 10.60 0 1 0 101.40 45.75A5.70 10.60 0 1 0 90.00 45.75Z" fill="#000" fill-rule="evenodd"/>
<text transform="matrix(0.9529 0 0 1 108.30 47.15)" font-size="22.666666666666668" fill="#000" stroke="#000" stroke-width="0.75" vector-effect="non-scaling-stroke" stroke-linejoin="round">4</text>
<text transform="matrix(0.9529 0 0 1 121.30 47.15)" font-size="22.666666666666668" fill="#000" stroke="#000" stroke-width="0.75" vector-effect="non-scaling-stroke" stroke-linejoin="round">0</text>
<path d="M167.50 761.80L170.40 761.30V785.90H167.50ZM163.45 784.60H174.15V786.40H163.45ZM167.60 761.70L163.45 765.60L164.35 767.30L167.60 764.90Z" fill="#000"/>
<path d="M182.10 773.90A8.90 12.80 0 1 1 199.90 773.90A8.90 12.80 0 1 1 182.10 773.90ZM185.30 773.90A5.70 10.60 0 1 0 196.70 773.90A5.70 10.60 0 1 0 185.30 773.90Z" fill="#000" fill-rule="evenodd"/>
<path d="M204.30 773.90A8.90 12.80 0 1 1 222.10 773.90A8.90 12.80 0 1 1 204.30 773.90ZM207.50 773.90A5.70 10.60 0 1 0 218.90 773.90A5.70 10.60 0 1 0 207.50 773.90Z" fill="#000" fill-rule="evenodd"/>
<path d="M305.30 761.80L308.20 761.30V785.90H305.30ZM301.25 784.60H311.95V786.40H301.25ZM305.40 761.70L301.25 765.60L302.15 767.30L305.40 764.90Z" fill="#000"/>
<path d="M319.90 773.90A8.90 12.80 0 1 1 337.70 773.90A8.90 12.80 0 1 1 319.90 773.90ZM323.10 773.90A5.70 10.60 0 1 0 334.50 773.90A5.70 10.60 0 1 0 323.10 773.90Z" fill="#000" fill-rule="evenodd"/>
<path d="M342.10 773.90A8.90 12.80 0 1 1 359.90 773.90A8.90 12.80 0 1 1 342.10 773.90ZM345.30 773.90A5.70 10.60 0 1 0 356.70 773.90A5.70 10.60 0 1 0 345.30 773.90Z" fill="#000" fill-rule="evenodd"/>
<path d="M364.30 773.90A8.90 12.80 0 1 1 382.10 773.90A8.90 12.80 0 1 1 364.30 773.90ZM367.50 773.90A5.70 10.60 0 1 0 378.90 773.90A5.70 10.60 0 1 0 367.50 773.90Z" fill="#000" fill-rule="evenodd"/>
<path d="M470.00 762.90L472.90 762.40V787.00H470.00ZM465.95 785.70H476.65V787.50H465.95ZM470.10 762.80L465.95 766.70L466.85 768.40L470.10 766.00Z" fill="#000"/>
<path d="M484.20 775.00A8.90 12.80 0 1 1 502.00 775.00A8.90 12.80 0 1 1 484.20 775.00ZM487.40 775.00A5.70 10.60 0 1 0 498.80 775.00A5.70 10.60 0 1 0 487.40 775.00Z" fill="#000" fill-rule="evenodd"/>
<text transform="matrix(0.9529 0 0 1 506.20 776.40)" font-size="22.666666666666668" fill="#000" stroke="#000" stroke-width="0.75" vector-effect="non-scaling-stroke" stroke-linejoin="round">4</text>
<path d="M618.90 762.90L621.80 762.40V787.00H618.90ZM614.85 785.70H625.55V787.50H614.85ZM619.00 762.80L614.85 766.70L615.75 768.40L619.00 766.00Z" fill="#000"/>
<path d="M633.10 775.00A8.90 12.80 0 1 1 650.90 775.00A8.90 12.80 0 1 1 633.10 775.00ZM636.30 775.00A5.70 10.60 0 1 0 647.70 775.00A5.70 10.60 0 1 0 636.30 775.00Z" fill="#000" fill-rule="evenodd"/>
<text transform="matrix(0.9529 0 0 1 655.10 776.40)" font-size="22.666666666666668" fill="#000" stroke="#000" stroke-width="0.75" vector-effect="non-scaling-stroke" stroke-linejoin="round">5</text>
<path d="M767.80 762.90L770.70 762.40V787.00H767.80ZM763.75 785.70H774.45V787.50H763.75ZM767.90 762.80L763.75 766.70L764.65 768.40L767.90 766.00Z" fill="#000"/>
<path d="M782.00 775.00A8.90 12.80 0 1 1 799.80 775.00A8.90 12.80 0 1 1 782.00 775.00ZM785.20 775.00A5.70 10.60 0 1 0 796.60 775.00A5.70 10.60 0 1 0 785.20 775.00Z" fill="#000" fill-rule="evenodd"/>
<text transform="matrix(0.9529 0 0 1 804.00 776.40)" font-size="22.666666666666668" fill="#000" stroke="#000" stroke-width="0.75" vector-effect="non-scaling-stroke" stroke-linejoin="round">6</text>
<text transform="matrix(0.2551 0 0 0.3588 395.90 816.80)" font-size="100.0" fill="#000" stroke="#000" stroke-width="0.6" vector-effect="non-scaling-stroke" stroke-linejoin="round">M</text>
<text transform="matrix(0.1933 0 0 0.2236 422.10 827.24)" font-size="100.0" fill="#000" stroke="#000" stroke-width="0.4" vector-effect="non-scaling-stroke" stroke-linejoin="round">B</text>
<text transform="matrix(0.2021 0 0 0.2244 436.80 827.30)" font-size="100.0" fill="#000" stroke="#000" stroke-width="0.4" vector-effect="non-scaling-stroke" stroke-linejoin="round">H</text>
<text transform="matrix(0.2917 0 0 0.3890 472.65 816.08)" font-size="100.0" fill="#000" stroke="#000" stroke-width="0.5" vector-effect="non-scaling-stroke" stroke-linejoin="round">(</text>
<text transform="matrix(0.2539 0 0 0.3588 487.60 816.80)" font-size="100.0" fill="#000" stroke="#000" stroke-width="0.6" vector-effect="non-scaling-stroke" stroke-linejoin="round">M</text>
<circle cx="522.20" cy="820.20" r="7.40" fill="none" stroke="#000" stroke-width="1.6"/><circle cx="522.20" cy="820.20" r="1.8" fill="#000"/>
<text transform="matrix(0.2887 0 0 0.3890 534.15 816.08)" font-size="100.0" fill="#000" stroke="#000" stroke-width="0.5" vector-effect="non-scaling-stroke" stroke-linejoin="round">)</text>
<path d="M7.6 479.0H33.2V481.9H7.6Z M7.6 476.9H9.5V484.9H7.6Z M31.3 467.1H33.2V484.9H31.3Z M25.0 467.0L31.4 467.1V469.2L25.2 468.5Z" fill="#000"/>
<text transform="matrix(0 -0.1689 0.2229 0 43.10 466.20)" font-size="100.0" fill="#000" stroke="#000" stroke-width="0.6" vector-effect="non-scaling-stroke" stroke-linejoin="round">X</text>
<text transform="matrix(0 -0.2737 0.4000 0 31.55 431.65)" font-size="100.0" fill="#000" stroke="#000" stroke-width="0.5" vector-effect="non-scaling-stroke" stroke-linejoin="round">(</text>
<text transform="matrix(0 -0.3719 0.3698 0 33.06 417.53)" font-size="100.0" fill="#000" stroke="#000" stroke-width="0.15" vector-effect="non-scaling-stroke" stroke-linejoin="round">e</text>
<text transform="matrix(0 -0.4586 0.3755 0 33.32 396.53)" font-size="100.0" fill="#000" stroke="#000" stroke-width="0.15" vector-effect="non-scaling-stroke" stroke-linejoin="round">r</text>
<text transform="matrix(0 -0.3730 0.3498 0 33.60 378.93)" font-size="100.0" fill="#000" stroke="#000" stroke-width="0.15" vector-effect="non-scaling-stroke" stroke-linejoin="round">g</text>
<path d="M4.3 336.3L39.5 356.3" stroke="#000" stroke-width="1.6" fill="none"/>
<text transform="matrix(0 -0.3833 0.3740 0 33.15 332.23)" font-size="100.0" fill="#000" stroke="#000" stroke-width="0.15" vector-effect="non-scaling-stroke" stroke-linejoin="round">s</text>
<text transform="matrix(0 -0.2767 0.3967 0 31.62 312.45)" font-size="100.0" fill="#000" stroke="#000" stroke-width="0.5" vector-effect="non-scaling-stroke" stroke-linejoin="round">)</text>
<text transform="matrix(0.1966 0 0 0.2748 520.35 463.19)" font-size="100.0" fill="#2f4f4f" stroke="#2f4f4f" stroke-width="0.5" vector-effect="non-scaling-stroke" stroke-linejoin="round">M</text>
<text transform="matrix(0.2217 0 0 0.1667 540.23 471.35)" font-size="100.0" fill="#2f4f4f" stroke="#2f4f4f" stroke-width="0.25" vector-effect="non-scaling-stroke" stroke-linejoin="round">stellar</text>
<path d="M597.5 453.04H612.8M597.5 457.24H612.8" stroke="#2f4f4f" stroke-width="1.5" fill="none"/>
<path d="M623.65 445.34L626.55 444.84V462.79H623.65ZM620.86 461.49H629.04V463.29H620.86ZM623.75 445.24L620.86 448.13L621.55 449.43L623.75 447.59Z" fill="#2f4f4f"/>
<path d="M634.40 454.09A6.85 9.35 0 1 1 648.10 454.09A6.85 9.35 0 1 1 634.40 454.09ZM637.10 454.09A4.15 7.35 0 1 0 645.40 454.09A4.15 7.35 0 1 0 637.10 454.09Z" fill="#2f4f4f" fill-rule="evenodd"/>
<text transform="matrix(0.9916 0 0 1 650.55 455.04)" font-size="16.74074074074074" fill="#2f4f4f" stroke="#2f4f4f" stroke-width="0.6" vector-effect="non-scaling-stroke" stroke-linejoin="round">5</text>
<text transform="matrix(0.1978 0 0 0.2748 675.05 463.19)" font-size="100.0" fill="#2f4f4f" stroke="#2f4f4f" stroke-width="0.5" vector-effect="non-scaling-stroke" stroke-linejoin="round">M</text>
<circle cx="700.60" cy="465.84" r="5.55" fill="none" stroke="#2f4f4f" stroke-width="1.4"/><circle cx="700.60" cy="465.84" r="1.5" fill="#2f4f4f"/>
<text transform="matrix(0.1966 0 0 0.2748 520.35 509.62)" font-size="100.0" fill="#ff00ff" stroke="#ff00ff" stroke-width="0.5" vector-effect="non-scaling-stroke" stroke-linejoin="round">M</text>
<text transform="matrix(0.2217 0 0 0.1667 540.23 517.78)" font-size="100.0" fill="#ff00ff" stroke="#ff00ff" stroke-width="0.25" vector-effect="non-scaling-stroke" stroke-linejoin="round">stellar</text>
<path d="M597.5 499.47H612.8M597.5 503.67H612.8" stroke="#ff00ff" stroke-width="1.5" fill="none"/>
<path d="M623.65 491.77L626.55 491.27V509.22H623.65ZM620.86 507.92H629.04V509.72H620.86ZM623.75 491.67L620.86 494.56L621.55 495.86L623.75 494.02Z" fill="#ff00ff"/>
<path d="M634.40 500.52A6.85 9.35 0 1 1 648.10 500.52A6.85 9.35 0 1 1 634.40 500.52ZM637.10 500.52A4.15 7.35 0 1 0 645.40 500.52A4.15 7.35 0 1 0 637.10 500.52Z" fill="#ff00ff" fill-rule="evenodd"/>
<text transform="matrix(0.9916 0 0 1 650.55 501.47)" font-size="16.74074074074074" fill="#ff00ff" stroke="#ff00ff" stroke-width="0.6" vector-effect="non-scaling-stroke" stroke-linejoin="round">6</text>
<text transform="matrix(0.1978 0 0 0.2748 675.05 509.62)" font-size="100.0" fill="#ff00ff" stroke="#ff00ff" stroke-width="0.5" vector-effect="non-scaling-stroke" stroke-linejoin="round">M</text>
<circle cx="700.60" cy="512.27" r="5.55" fill="none" stroke="#ff00ff" stroke-width="1.4"/><circle cx="700.60" cy="512.27" r="1.5" fill="#ff00ff"/>
<text transform="matrix(0.1966 0 0 0.2748 520.35 556.04)" font-size="100.0" fill="#000" stroke="#000" stroke-width="0.5" vector-effect="non-scaling-stroke" stroke-linejoin="round">M</text>
<text transform="matrix(0.2217 0 0 0.1667 540.23 564.20)" font-size="100.0" fill="#000" stroke="#000" stroke-width="0.25" vector-effect="non-scaling-stroke" stroke-linejoin="round">stellar</text>
<path d="M597.5 545.89H612.8M597.5 550.09H612.8" stroke="#000" stroke-width="1.5" fill="none"/>
<path d="M623.65 538.19L626.55 537.69V555.64H623.65ZM620.86 554.34H629.04V556.14H620.86ZM623.75 538.09L620.86 540.98L621.55 542.28L623.75 540.45Z" fill="#000"/>
<path d="M634.40 546.94A6.85 9.35 0 1 1 648.10 546.94A6.85 9.35 0 1 1 634.40 546.94ZM637.10 546.94A4.15 7.35 0 1 0 645.40 546.94A4.15 7.35 0 1 0 637.10 546.94Z" fill="#000" fill-rule="evenodd"/>
<text transform="matrix(0.9916 0 0 1 650.55 547.89)" font-size="16.74074074074074" fill="#000" stroke="#000" stroke-width="0.6" vector-effect="non-scaling-stroke" stroke-linejoin="round">7</text>
<text transform="matrix(0.1978 0 0 0.2748 675.05 556.04)" font-size="100.0" fill="#000" stroke="#000" stroke-width="0.5" vector-effect="non-scaling-stroke" stroke-linejoin="round">M</text>
<circle cx="700.60" cy="558.69" r="5.55" fill="none" stroke="#000" stroke-width="1.4"/><circle cx="700.60" cy="558.69" r="1.5" fill="#000"/>
<text transform="matrix(0.1966 0 0 0.2748 520.35 602.47)" font-size="100.0" fill="#ff0000" stroke="#ff0000" stroke-width="0.5" vector-effect="non-scaling-stroke" stroke-linejoin="round">M</text>
<text transform="matrix(0.2217 0 0 0.1667 540.23 610.63)" font-size="100.0" fill="#ff0000" stroke="#ff0000" stroke-width="0.25" vector-effect="non-scaling-stroke" stroke-linejoin="round">stellar</text>
<path d="M597.5 592.32H612.8M597.5 596.52H612.8" stroke="#ff0000" stroke-width="1.5" fill="none"/>
<path d="M623.65 584.62L626.55 584.12V602.07H623.65ZM620.86 600.77H629.04V602.57H620.86ZM623.75 584.52L620.86 587.41L621.55 588.71L623.75 586.87Z" fill="#ff0000"/>
<path d="M634.40 593.37A6.85 9.35 0 1 1 648.10 593.37A6.85 9.35 0 1 1 634.40 593.37ZM637.10 593.37A4.15 7.35 0 1 0 645.40 593.37A4.15 7.35 0 1 0 637.10 593.37Z" fill="#ff0000" fill-rule="evenodd"/>
<text transform="matrix(0.9916 0 0 1 650.55 594.32)" font-size="16.74074074074074" fill="#ff0000" stroke="#ff0000" stroke-width="0.6" vector-effect="non-scaling-stroke" stroke-linejoin="round">8</text>
<text transform="matrix(0.1978 0 0 0.2748 675.05 602.47)" font-size="100.0" fill="#ff0000" stroke="#ff0000" stroke-width="0.5" vector-effect="non-scaling-stroke" stroke-linejoin="round">M</text>
<circle cx="700.60" cy="605.12" r="5.55" fill="none" stroke="#ff0000" stroke-width="1.4"/><circle cx="700.60" cy="605.12" r="1.5" fill="#ff0000"/>
</g>
</svg></body></html>
